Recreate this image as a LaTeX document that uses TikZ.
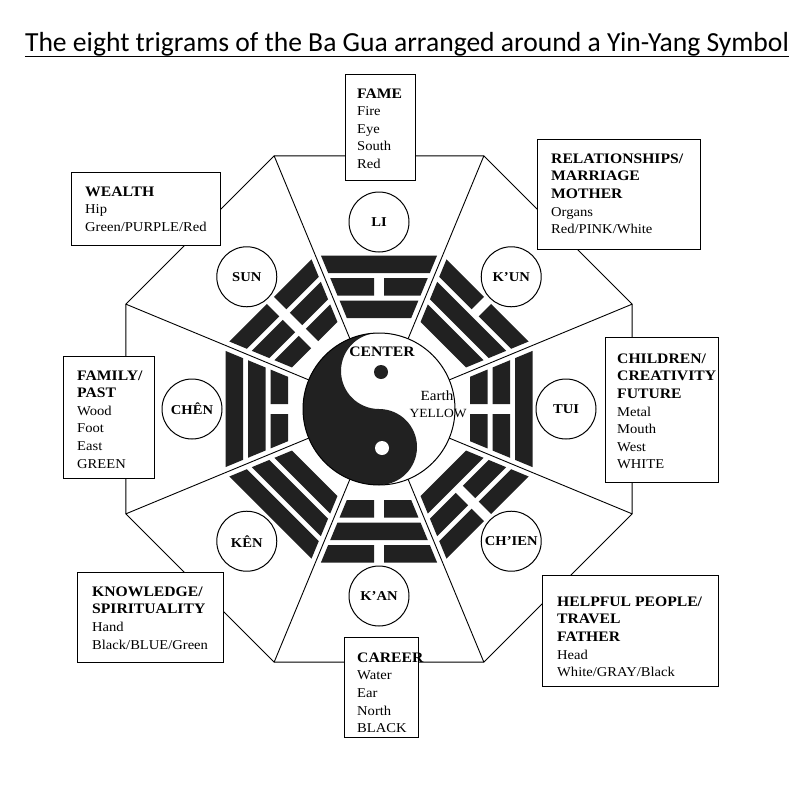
\documentclass[tikz,border=0pt]{standalone}
\usepackage{fontspec}
\setmainfont{Liberation Serif}[FakeStretch=1.08]
\newfontfamily\titlefont{Carlito}
\newcommand\bxhead[1]{{\bfseries\fontsize{14.5}{17.6}\selectfont #1}}
% #1 = 1 solid / 0 broken, #2 inner apothem, #3 outer apothem
\newcommand\trigbar[3]{%
  \pgfmathsetmacro\wa{#2*0.41421-5.5}%
  \pgfmathsetmacro\wb{#3*0.41421-5.5}%
  \ifnum#1=1
    \fill[bar] (-\wa,#2) -- (\wa,#2) -- (\wb,#3) -- (-\wb,#3) -- cycle;
  \else
    \fill[bar] (-\wa,#2) -- (-5,#2) -- (-5,#3) -- (-\wb,#3) -- cycle;
    \fill[bar] (\wa,#2) -- (5,#2) -- (5,#3) -- (\wb,#3) -- cycle;
  \fi}
\begin{document}
\begin{tikzpicture}[x=1pt,y=-1pt,
  edge/.style={line width=0.9pt},
  bar/.style={fill=black!87},
  infobox/.style={draw, line width=1.2pt, fill=white, inner sep=0pt, anchor=north west},
  infotext/.style={align=left, anchor=north west, inner sep=0pt, font=\fontsize{13.5}{17.6}\selectfont},
  namecircle/.style={circle, draw, line width=1pt, fill=white, minimum size=60pt, inner sep=0pt, font=\bfseries\fontsize{13.5}{15}\selectfont},
  titlestyle/.style={anchor=base, inner sep=0pt, font=\titlefont\fontsize{27.6}{30}\selectfont}]
\useasboundingbox (0,0) rectangle (800,800);
\fill[white] (0,0) rectangle (800,800);

% title
\node[titlestyle] (title) at (407,52) {The eight trigrams of the Ba Gua arranged around a Yin-Yang Symbol};
\draw[line width=1.3pt] ([yshift=-4.5pt]title.base west) -- ([yshift=-4.5pt]title.base east);

% central figure, y up
\begin{scope}[shift={(379,409)}, yscale=-1]
  % octagon
  \draw[edge] (22.5:274) \foreach \k in {1,...,7} { -- ({22.5+45*\k}:274) } -- cycle;
  % spokes
  \foreach \k in {0,...,7} {
    \coordinate (vo\k) at ({22.5+45*\k}:274);
    \coordinate (vi\k) at ({22.5+45*\k}:76);
    \draw[edge] (vo\k) -- (vi\k);
  }
  % trigrams: angle / inner / middle / outer
  \foreach \ang/\tA/\tB/\tC in {90/1/0/1, 45/0/0/0, 0/0/1/1, -45/1/1/1, -90/0/1/0, -135/1/0/0, 180/0/0/1, 135/1/1/0} {
    \begin{scope}[rotate=\ang-90]
      \trigbar{\tA}{91}{108.5}
      \trigbar{\tB}{113.5}{131}
      \trigbar{\tC}{136}{153.5}
    \end{scope}
  }
  % yin-yang
  \fill[white] (0,0) circle[radius=76];
  \fill[black!87] (0,76) arc[start angle=90, end angle=270, radius=76]
      arc[start angle=-90, end angle=90, radius=38]
      arc[start angle=270, end angle=90, radius=38] -- cycle;
  \draw[line width=1pt] (0,0) circle[radius=76];
  \fill[black!87] (2,37) circle[radius=7];
  \fill[white] (3,-39) circle[radius=7];
  % trigram name circles
  \node[namecircle] (li)    at (90:187)   {LI};
  \node[namecircle] (kun)   at (45:187)   {K’UN};
  \node[namecircle] (tui)   at (0:187)    {TUI};
  \node[namecircle] (chien) at (-45:187)  {CH’IEN};
  \node[namecircle] (kan)   at (-90:187)  {K’AN};
  \node[namecircle] (ken)   at (-135:187) {KÊN};
  \node[namecircle] (chen)  at (180:187)  {CHÊN};
  \node[namecircle] (sun)   at (135:187)  {SUN};
\end{scope}

% centre texts
\node[font=\bfseries\fontsize{14.5}{16}\selectfont, inner sep=0pt] (center) at (382,352) {CENTER};
\node[font=\fontsize{14}{16}\selectfont, inner sep=0pt] (earth) at (437,396) {Earth};
\node[font=\fontsize{12.5}{15}\selectfont, inner sep=0pt] (yellow) at (438,413) {YELLOW};

% boxes
\node[infobox, minimum width=70pt, minimum height=106pt] (famebox) at (345,74) {};
\node[infotext] (fametext) at (357,88.4) {\bxhead{FAME}\\Fire\\Eye\\South\\Red};

\node[infobox, minimum width=149pt, minimum height=73pt] (wealthbox) at (71,172) {};
\node[infotext] (wealthtext) at (85,186.4) {\bxhead{WEALTH}\\Hip\\Green/PURPLE/Red};

\node[infobox, minimum width=163pt, minimum height=110pt] (relbox) at (537,139) {};
\node[infotext] (reltext) at (551,153.4) {\bxhead{RELATIONSHIPS/}\\\bxhead{MARRIAGE}\\\bxhead{MOTHER}\\Organs\\Red/PINK/White};

\node[infobox, minimum width=91pt, minimum height=122pt] (familybox) at (63,356) {};
\node[infotext] (familytext) at (77,370.4) {\bxhead{FAMILY/}\\\bxhead{PAST}\\Wood\\Foot\\East\\GREEN};

\node[infobox, minimum width=113pt, minimum height=145pt] (childbox) at (605,337) {};
\node[infotext] (childtext) at (617,353.4) {\bxhead{CHILDREN/}\\\bxhead{CREATIVITY}\\\bxhead{FUTURE}\\Metal\\Mouth\\West\\WHITE};

\node[infobox, minimum width=146pt, minimum height=90pt] (knowbox) at (77,572) {};
\node[infotext] (knowtext) at (92,586.4) {\bxhead{KNOWLEDGE/}\\\bxhead{SPIRITUALITY}\\Hand\\Black/BLUE/Green};

\node[infobox, minimum width=74pt, minimum height=100pt] (careerbox) at (344,637) {};
\node[infotext] (careertext) at (357,652.4) {\bxhead{CAREER}\\Water\\Ear\\North\\BLACK};

\node[infobox, minimum width=176pt, minimum height=111pt] (helpbox) at (542,575) {};
\node[infotext] (helptext) at (557,596.4) {\bxhead{HELPFUL PEOPLE/}\\\bxhead{TRAVEL}\\\bxhead{FATHER}\\Head\\White/GRAY/Black};
\end{tikzpicture}
\end{document}
